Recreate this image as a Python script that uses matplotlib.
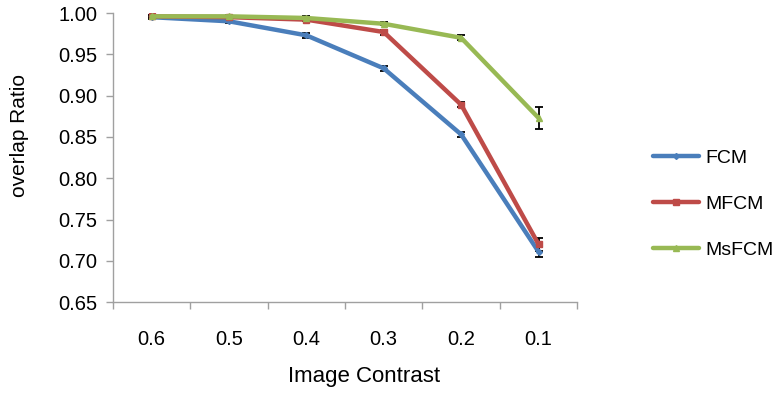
import matplotlib.pyplot as plt
from matplotlib.ticker import FixedLocator, FormatStrFormatter

plt.rcParams['font.family'] = ['Liberation Sans', 'DejaVu Sans']

# data
contrast = ['0.6', '0.5', '0.4', '0.3', '0.2', '0.1']
fcm = [0.995, 0.990, 0.973, 0.933, 0.853, 0.711]
fcm_err = [0.002, 0.002, 0.003, 0.003, 0.003, 0.006]
mfcm = [0.996, 0.995, 0.992, 0.977, 0.889, 0.720]
mfcm_err = [0.002, 0.002, 0.002, 0.003, 0.003, 0.008]
msfcm = [0.996, 0.996, 0.994, 0.987, 0.970, 0.873]
msfcm_err = [0.002, 0.002, 0.002, 0.002, 0.003, 0.013]

fig = plt.figure(figsize=(7.78, 3.95), dpi=100)
ax = fig.add_axes([0.145, 0.235, 0.597, 0.732])

x = list(range(len(contrast)))
series = [
    ('FCM', fcm, fcm_err, '#4a7ebb', 'D', 3),
    ('MFCM', mfcm, mfcm_err, '#be4b48', 's', 4.5),
    ('MsFCM', msfcm, msfcm_err, '#98b954', '^', 4.5),
]
for name, vals, err, col, mk, ms in series:
    ax.errorbar(x, vals, yerr=err, color=col, lw=3.2, marker=mk, ms=ms,
                ecolor='black', elinewidth=1.3, capsize=3, capthick=1.3,
                label=name, solid_capstyle='round', zorder=3)

ax.set_xlim(-0.5, 5.5)
ax.set_ylim(0.65, 1.00)
ax.set_yticks([0.65, 0.70, 0.75, 0.80, 0.85, 0.90, 0.95, 1.00])
ax.yaxis.set_major_formatter(FormatStrFormatter('%.2f'))
ax.set_xticks(x)
ax.set_xticklabels(contrast)
ax.xaxis.set_minor_locator(FixedLocator([i + 0.5 for i in range(-1, 6)]))
ax.tick_params(axis='x', which='major', length=0, pad=20, labelsize=14.5)
ax.tick_params(axis='x', which='minor', length=5, width=1, color='#a0a0a0')
ax.tick_params(axis='y', length=5, width=1, color='#a0a0a0', labelsize=14.5, pad=6)

for s in ['top', 'right']:
    ax.spines[s].set_visible(False)
for s in ['left', 'bottom']:
    ax.spines[s].set_color('#a0a0a0')
    ax.spines[s].set_linewidth(1)

# Excel puts the titles a bit off-centre
ax.set_xlabel('Image Contrast', fontsize=16)
ax.xaxis.set_label_coords(0.54, -0.222)
ax.set_ylabel('overlap Ratio', fontsize=15)
ax.yaxis.set_label_coords(-0.18, 0.578)

handles, labels = ax.get_legend_handles_labels()
handles = [h[0] for h in handles]
fig.legend(handles, labels, loc='center left', bbox_to_anchor=(0.839, 0.483),
           frameon=False, fontsize=14, handlelength=2.4, labelspacing=1.45,
           handletextpad=0.3, borderpad=0, borderaxespad=0)

fig.savefig('out.png', dpi=100, facecolor='white')
